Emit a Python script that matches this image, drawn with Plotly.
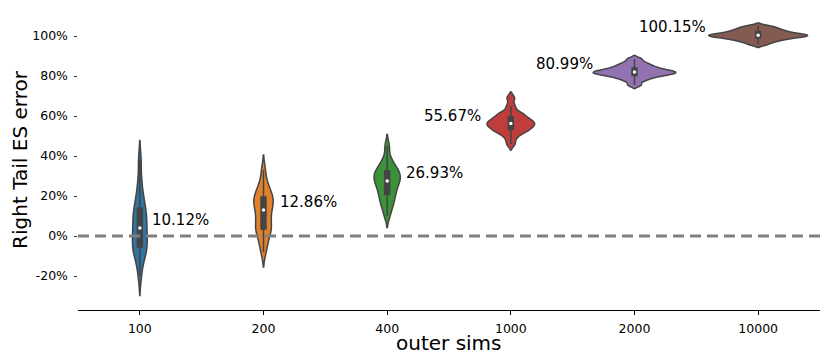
import numpy as np
import plotly.graph_objects as go

# categorias (numero de simulaciones externas)
categorias = ["100", "200", "400", "1000", "2000", "10000"]

# muestras de error (fraccion)
err_100 = [-0.20, -0.13, -0.10, -0.08, -0.06, -0.05, -0.03, -0.01, 0.01, 0.03,
           0.05, 0.07, 0.09, 0.11, 0.13, 0.15, 0.18, 0.22, 0.28, 0.38]
err_200 = [-0.08, -0.04, -0.01, 0.02, 0.03, 0.04, 0.06, 0.08, 0.10, 0.12,
           0.14, 0.15, 0.17, 0.18, 0.19, 0.20, 0.22, 0.24, 0.27, 0.33]
err_400 = [0.10, 0.14, 0.16, 0.18, 0.20, 0.215, 0.23, 0.245, 0.26, 0.27,
           0.28, 0.29, 0.30, 0.31, 0.32, 0.33, 0.345, 0.36, 0.39, 0.45]
err_1000 = [0.46, 0.49, 0.51, 0.52, 0.53, 0.535, 0.54, 0.55, 0.555, 0.56,
            0.565, 0.57, 0.575, 0.585, 0.59, 0.60, 0.61, 0.62, 0.65, 0.69]
err_2000 = [0.755, 0.775, 0.786, 0.794, 0.800, 0.805, 0.809, 0.812, 0.815, 0.818,
            0.821, 0.824, 0.828, 0.832, 0.837, 0.843, 0.850, 0.858, 0.868, 0.885]
err_10000 = [0.958, 0.970, 0.977, 0.983, 0.988, 0.992, 0.995, 0.998, 1.001, 1.003,
             1.005, 1.008, 1.011, 1.015, 1.019, 1.024, 1.029, 1.035, 1.042, 1.050]

muestras = [err_100, err_200, err_400, err_1000, err_2000, err_10000]

# etiquetas de la media
etiquetas = ["10.12%", "12.86%", "26.93%", "55.67%", "80.99%", "100.15%"]

# ticks del eje y
y_ticks = [-0.2, 0.0, 0.2, 0.4, 0.6, 0.8, 1.0]
y_tick_text = ["-20%", "0%", "20%", "40%", "60%", "80%", "100%"]

colores = ["#3274a1", "#e1812c", "#3a923a", "#c03d3e", "#9372b2", "#845b53"]
gris = "#444444"
fuente = "DejaVu Sans"


def ancho_banda(v):
    # regla de Silverman (la misma que usa plotly), algo reducida
    v = np.asarray(v)
    iqr = np.subtract(*np.percentile(v, [75, 25]))
    a = min(v.std(ddof=1), iqr / 1.349)
    return 0.6 * 1.059 * a * len(v) ** -0.2


def pico_kde(v, bw):
    v = np.asarray(v)
    grid = np.linspace(v.min() - 2 * bw, v.max() + 2 * bw, 400)
    dens = np.exp(-0.5 * ((grid[:, None] - v[None, :]) / bw) ** 2).sum(axis=1)
    return dens.max() / (len(v) * bw * np.sqrt(2 * np.pi))


# escala "area" como seaborn: ancho proporcional al pico de densidad
bandas = [ancho_banda(v) for v in muestras]
picos = [pico_kde(v, b) for v, b in zip(muestras, bandas)]
anchos = [0.8 * p / max(picos) for p in picos]

fig = go.Figure()

for cat, vals, color, bw, w in zip(categorias, muestras, colores, bandas, anchos):
    fig.add_trace(
        go.Violin(
            x=[cat] * len(vals),
            y=vals,
            name=cat,
            fillcolor=color,
            opacity=1,
            line=dict(color=gris, width=1.5),
            points=False,
            spanmode="soft",
            bandwidth=bw,
            scalemode="width",
            width=w,
            box=dict(visible=True, width=0.05 * 0.8 / w, fillcolor=gris,
                     line=dict(color=gris, width=1.5)),
            showlegend=False,
            hoverinfo="skip",
        )
    )

# punto blanco en la mediana
medianas = [float(np.median(v)) for v in muestras]
fig.add_trace(
    go.Scatter(
        x=categorias,
        y=medianas,
        mode="markers",
        marker=dict(color="white", size=3.5),
        showlegend=False,
        hoverinfo="skip",
    )
)

# linea de referencia en 0
fig.add_hline(y=0, line=dict(color="#808080", width=3, dash="11px,6px"), layer="above")

# etiquetas: a la derecha para las primeras, a la izquierda para el resto
desplaz = [10, 14, 17, -28, -40, -50]
for i, (txt, med) in enumerate(zip(etiquetas, medianas)):
    fig.add_annotation(
        x=i,
        y=med,
        text=txt,
        showarrow=False,
        xanchor="left" if desplaz[i] > 0 else "right",
        yanchor="bottom",
        xshift=desplaz[i],
        yshift=-3,
        font=dict(family=fuente, size=15, color="black"),
    )

# titulo del eje x como anotacion para ajustarlo justo bajo las etiquetas
fig.add_annotation(
    x=0.5,
    y=-0.11,
    xref="paper",
    yref="paper",
    text="outer sims",
    showarrow=False,
    xanchor="center",
    yanchor="middle",
    font=dict(family=fuente, size=20, color="black"),
)

# el body de la pagina tiene 8px de margen: la figura se reduce en esa medida
fig.update_layout(
    width=822,
    height=355,
    template="plotly_white",
    plot_bgcolor="white",
    paper_bgcolor="white",
    violinmode="overlay",
    margin=dict(l=70, r=10, t=2, b=53, autoexpand=False),
    font=dict(family=fuente, color="black"),
)

fig.update_xaxes(
    type="category",
    range=[-0.5, 5.5],
    showgrid=False,
    zeroline=False,
    showline=True,
    linecolor="black",
    linewidth=1.2,
    ticks="outside",
    ticklen=4,
    tickcolor="black",
    ticklabelstandoff=3,
    tickfont=dict(size=12.5, family=fuente),
)

fig.update_yaxes(
    range=[-0.37, 1.13],
    tickvals=y_ticks,
    ticktext=y_tick_text,
    showgrid=False,
    zeroline=False,
    showline=False,
    ticks="outside",
    ticklen=3.5,
    tickcolor="#333333",
    ticklabelstandoff=3,
    tickfont=dict(size=12.5, family=fuente),
    title=dict(text="Right Tail ES error", font=dict(size=20, family=fuente), standoff=0),
)

fig.write_html("out.html")
